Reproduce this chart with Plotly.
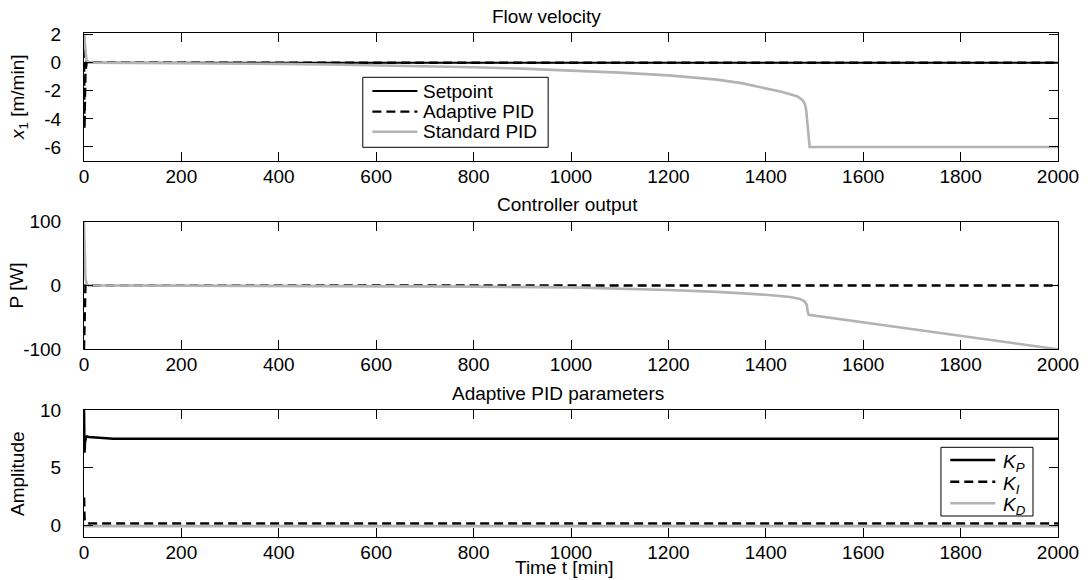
import plotly.graph_objects as go

# ---- Flow velocity (x1) ----
t_set = [0, 2000]
x1_setpoint = [0, 0]

t_adapt_x1 = [0, 1, 3, 6, 12, 2000]
x1_adaptive = [2.0, -4.7, -0.6, 0.1, 0.0, 0.0]

t_std_x1 = [0, 2, 5, 10, 100, 200, 300, 400, 500, 600, 700, 800, 900, 1000,
            1100, 1200, 1300, 1350, 1400, 1430, 1450, 1465, 1475, 1480, 1483,
            1486, 1488, 1490, 2000]
x1_standard = [2.0, 1.0, 0.2, 0.0, -0.01, -0.03, -0.05, -0.08, -0.12, -0.17,
               -0.24, -0.32, -0.42, -0.55, -0.7, -0.9, -1.2, -1.45, -1.8, -2.05,
               -2.25, -2.4, -2.65, -2.9, -3.4, -4.5, -5.6, -6.0, -6.0]

# ---- Controller output P ----
t_adapt_p = [0, 1.5, 3, 2000]
p_adaptive = [-100, -45, 0, 0]

t_std_p = [0, 1, 3, 6, 10, 200, 400, 600, 800, 1000, 1100, 1200, 1300, 1400,
           1450, 1470, 1480, 1484, 1486, 1488, 2000]
p_standard = [100, 40, 10, 2, 0, -0.2, -0.5, -1, -1.8, -3, -4.5, -7, -10,
              -14.5, -18, -21, -25, -30, -40, -46, -100]

# ---- Adaptive PID parameters ----
t_kp = [0, 1, 2, 4, 6, 10, 30, 60, 2000]
kp = [10, 6.3, 7.2, 7.6, 7.7, 7.65, 7.6, 7.5, 7.5]

t_ki = [0, 1, 3, 6, 2000]
ki = [2.4, 0.5, 0.25, 0.15, 0.15]

t_kd = [0, 2000]
kd = [-0.08, -0.08]

x_ticks = [0, 200, 400, 600, 800, 1000, 1200, 1400, 1600, 1800, 2000]

GRAY = "#b3b3b3"
DASH = "9px,5px"
FONT = "Liberation Sans, Arial, Helvetica, sans-serif"
FS = 19

STYLE_SET = dict(color="black", width=2.2)
STYLE_ADAPT = dict(color="black", width=2.4, dash=DASH)
STYLE_STD = dict(color=GRAY, width=2.6)

fig = go.Figure()

# top panel
fig.add_trace(go.Scatter(x=t_set, y=x1_setpoint, mode="lines", name="Setpoint",
                         line=STYLE_SET, xaxis="x", yaxis="y"))
fig.add_trace(go.Scatter(x=t_adapt_x1, y=x1_adaptive, mode="lines", name="Adaptive PID",
                         line=STYLE_ADAPT, xaxis="x", yaxis="y"))
fig.add_trace(go.Scatter(x=t_std_x1, y=x1_standard, mode="lines", name="Standard PID",
                         line=STYLE_STD, xaxis="x", yaxis="y"))

# middle panel
fig.add_trace(go.Scatter(x=t_adapt_p, y=p_adaptive, mode="lines", name="Adaptive PID",
                         line=STYLE_ADAPT, xaxis="x2", yaxis="y2"))
fig.add_trace(go.Scatter(x=t_std_p, y=p_standard, mode="lines", name="Standard PID",
                         line=STYLE_STD, xaxis="x2", yaxis="y2"))

# bottom panel
fig.add_trace(go.Scatter(x=t_kp, y=kp, mode="lines", name="K_P",
                         line=dict(color="black", width=2.6), xaxis="x3", yaxis="y3"))
fig.add_trace(go.Scatter(x=t_ki, y=ki, mode="lines", name="K_I",
                         line=dict(color="black", width=2.6, dash=DASH),
                         xaxis="x3", yaxis="y3"))
fig.add_trace(go.Scatter(x=t_kd, y=kd, mode="lines", name="K_D",
                         line=dict(color=GRAY, width=2.6), xaxis="x3", yaxis="y3"))

H = 580.0
W0 = 973.7
L = 84


def dom(top_px, bottom_px):
    return [1 - bottom_px / H, 1 - top_px / H]


def px_x(px):
    return (px - L) / W0


def px_y(py):
    return 1 - py / H


axis_common = dict(showline=True, linecolor="black", linewidth=1, mirror="allticks",
                   ticks="inside", ticklen=9, tickcolor="black", tickwidth=1,
                   showgrid=False, zeroline=False, automargin=False,
                   tickfont=dict(family=FONT, size=FS, color="black"))

xa = dict(axis_common, range=[0, 2000], tickvals=x_ticks, ticklabelstandoff=-2)

fig.update_layout(
    width=1091, height=580,
    margin=dict(l=L, r=33, t=0, b=0, pad=0, autoexpand=False),
    paper_bgcolor="white", plot_bgcolor="white",
    font=dict(family=FONT, size=FS, color="black"),
    showlegend=False,
    xaxis=dict(xa, anchor="y"),
    xaxis2=dict(xa, anchor="y2"),
    xaxis3=dict(xa, anchor="y3"),
    yaxis=dict(axis_common, domain=dom(33.3, 161), range=[-7, 2.1],
               tickvals=[-6, -4, -2, 0, 2], ticktext=["-6", "-4", "-2", "0", "2"],
               anchor="x", ticklabelstandoff=18),
    yaxis2=dict(axis_common, domain=dom(221.7, 349.3), range=[-100, 100],
                tickvals=[-100, 0, 100], ticktext=["-100", "0", "100"],
                anchor="x2", ticklabelstandoff=18),
    yaxis3=dict(axis_common, domain=dom(410, 536.7), range=[-1, 10],
                tickvals=[0, 5, 10], anchor="x3", ticklabelstandoff=18),
)

# titles and axis labels
annotations = [
    dict(text="Flow velocity", x=px_x(546), y=px_y(16)),
    dict(text="Controller output", x=px_x(567), y=px_y(204)),
    dict(text="Adaptive PID parameters", x=px_x(558), y=px_y(393)),
    dict(text="Time t [min]", x=px_x(564), y=px_y(567)),
    dict(text="<i>x</i><sub>1</sub> [m/min]", x=px_x(19), y=px_y(97), textangle=-90),
    dict(text="P [W]", x=px_x(17), y=px_y(285.5), textangle=-90),
    dict(text="Amplitude", x=px_x(17), y=px_y(473), textangle=-90),
]
for a in annotations:
    fig.add_annotation(xref="paper", yref="paper", showarrow=False,
                       xanchor="center", yanchor="middle",
                       font=dict(family=FONT, size=FS, color="black"), **a)


def add_legend_box(x0, y0, x1, y1, entries, line_x0, line_x1, text_x, text_dy=0):
    """Boxed legend in pixel coordinates: entries are (label, line style, row y)."""
    fig.add_shape(type="rect", xref="paper", yref="paper",
                  x0=px_x(x0), x1=px_x(x1), y0=px_y(y1), y1=px_y(y0),
                  line=dict(color="black", width=1), fillcolor="white", layer="above")
    for label, style, ry in entries:
        fig.add_shape(type="line", xref="paper", yref="paper",
                      x0=px_x(line_x0), x1=px_x(line_x1), y0=px_y(ry), y1=px_y(ry),
                      line=style, layer="above")
        fig.add_annotation(xref="paper", yref="paper", showarrow=False,
                           x=px_x(text_x), y=px_y(ry + text_dy),
                           xanchor="left", yanchor="middle", text=label,
                           font=dict(family=FONT, size=FS, color="black"))


add_legend_box(362.7, 77.3, 548, 147.3,
               [("Setpoint", STYLE_SET, 91),
                ("Adaptive PID", STYLE_ADAPT, 111.6),
                ("Standard PID", STYLE_STD, 131.7)],
               372.3, 417.3, 421)

add_legend_box(940.7, 447.3, 1032.7, 516,
               [("<i>K</i><sub><i>P</i></sub>", dict(color="black", width=2.6), 460),
                ("<i>K</i><sub><i>I</i></sub>", dict(color="black", width=2.6, dash=DASH), 481.7),
                ("<i>K</i><sub><i>D</i></sub>", dict(color=GRAY, width=2.6), 503.3)],
               950, 995, 1001, text_dy=3)

fig.write_html("out.html")
